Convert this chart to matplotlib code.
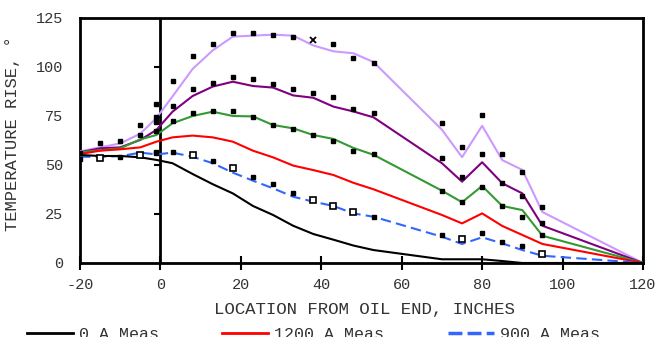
import matplotlib
matplotlib.use("Agg")
import matplotlib.pyplot as plt
from matplotlib.lines import Line2D

plt.rcParams['font.family'] = ['Liberation Mono', 'DejaVu Sans']
plt.rcParams['axes.unicode_minus'] = False

# positions along the bar (inches from the oil end)
location = [-20, -15, -10, -5, -1, 3, 8, 13, 18, 23, 28, 33, 38, 43, 48, 53,
            70, 75, 80, 85, 90, 95, 120]

# temperature rise curves
rise_0a = [55.1, 54.6, 54.6, 53.9, 52.6, 50.9, 45.4, 40.2, 35.5, 29.1, 24.5, 19.0,
           14.8, 11.9, 8.9, 6.6, 1.9, 1.9, 1.9, 1.0, 0, 0, 0]
rise_1200a = [55.6, 57.3, 58.0, 59.0, 61.9, 64.1, 65.0, 64.1, 61.9, 57.3, 53.9, 49.7,
              47.4, 44.9, 40.9, 37.6, 24.5, 20.2, 25.3, 18.9, 14.3, 9.7, 0]
rise_900a = [54.2, 54.2, 54.5, 56.3, 55.4, 56.3, 54.2, 50.9, 46.1, 42.0, 38.1, 33.8,
             31.3, 29.1, 25.3, 23.6, 13.4, 9.7, 13.1, 10.0, 6.6, 3.7, 0]
rise_green = [56.5, 57.5, 58.5, 63.1, 65.3, 71.3, 75.0, 77.2, 75.0, 74.8, 70.4, 68.7,
              65.3, 63.3, 58.7, 55.2, 36.9, 31.0, 39.3, 29.1, 27.0, 13.9, 0]
rise_purple = [56.5, 58.5, 59.0, 62.8, 67.9, 77.2, 85.2, 90.0, 92.5, 90.3, 89.5, 85.5,
               84.3, 79.8, 77.3, 74.3, 50.9, 41.5, 51.4, 40.7, 35.5, 19.0, 0]
rise_lavender = [57.0, 59.0, 61.0, 66.0, 74.0, 85.0, 99.0, 108.5, 115.5, 116.0, 116.5, 116.0,
                 111.0, 108.0, 107.0, 102.5, 68.0, 54.0, 70.0, 52.5, 47.5, 26.0, 0]

# measured points
pts_lavender_x = [-15, -10, -5, -1, 3, 8, 13, 18, 23, 28, 33, 43, 48, 53, 70, 75, 80, 85, 90, 95]
pts_lavender_y = [61.1, 62.4, 70.6, 81.0, 93.0, 105.8, 111.5, 117.5, 117.5, 116.3, 115.5,
                  111.6, 104.4, 102.2, 71.6, 59.3, 75.5, 55.6, 46.3, 28.7]
pts_cross_x = [38]
pts_cross_y = [113.8]
pts_purple_x = [-5, -1, 3, 8, 13, 18, 23, 28, 33, 38, 43, 48, 53, 70, 75, 80, 85, 90, 95]
pts_purple_y = [65.3, 74.6, 80.1, 88.6, 92.0, 95.0, 93.9, 91.2, 88.8, 86.9, 84.7, 78.4,
                76.7, 53.4, 44.0, 55.6, 41.0, 34.2, 20.6]
pts_green_x = [-20, -1, -1, 3, 8, 13, 18, 23, 28, 33, 38, 43, 48, 53, 70, 75, 80, 85, 90, 95]
pts_green_y = [56.2, 72.1, 67.5, 72.5, 76.7, 77.7, 77.7, 74.7, 70.4, 68.2, 65.3, 62.4,
               57.3, 55.4, 36.9, 31.0, 38.9, 29.1, 23.6, 14.4]
pts_blue_x = [-20, -10, -1, -1, 3, 13, 23, 28, 33, 53, 70, 80, 85, 90]
pts_blue_y = [52.9, 54.2, 56.8, 56.0, 56.5, 52.0, 44.0, 40.1, 35.9, 23.6, 14.3, 15.1, 10.5, 8.7]
pts_open_x = [-15, -5, 8, 18, 38, 43, 48, 75, 95]
pts_open_y = [53.4, 55.1, 54.9, 48.7, 32.1, 29.2, 26.2, 12.1, 4.6]

x_ticks = [-20, 0, 20, 40, 60, 80, 100, 120]
y_ticks = [0, 25, 50, 75, 100, 125]

text_color = '#333333'

fig = plt.figure(figsize=(6.67, 3.37), dpi=100)
ax = fig.add_axes([0.12, 0.2196, 0.844, 0.727])

ax.plot(location, rise_lavender, color='#CC99FF', lw=1.5, zorder=3)
ax.plot(location, rise_purple, color='#800080', lw=1.5, zorder=3)
ax.plot(location, rise_green, color='#339933', lw=1.5, zorder=3)
ax.plot(location, rise_1200a, color='#FF0000', lw=1.5, zorder=3)
ax.plot(location, rise_900a, color='#3366FF', lw=1.5, ls=(0, (5, 2.5)), zorder=3)
ax.plot(location, rise_0a, color='black', lw=1.5, zorder=3)

for px, py in [(pts_lavender_x, pts_lavender_y), (pts_purple_x, pts_purple_y),
               (pts_green_x, pts_green_y), (pts_blue_x, pts_blue_y)]:
    ax.plot(px, py, ls='none', marker='s', ms=2.5, color='black', zorder=4)
ax.plot(pts_open_x, pts_open_y, ls='none', marker='s', ms=4.5, mfc='white',
        mec='black', mew=1.2, zorder=4)
ax.plot(pts_cross_x, pts_cross_y, ls='none', marker='x', ms=5, mew=1.3,
        color='black', zorder=4)

# vertical reference at the oil end, with small ticks on its left side
ax.axvline(0, color='black', lw=2, zorder=2)
ax.plot([0] * 4, y_ticks[1:5], ls='none', marker=0, ms=4, mew=1.5,
        color='black', zorder=2)

ax.set_xlim(-20, 120)
ax.set_ylim(0, 125)
ax.set_xticks(x_ticks)
ax.set_yticks(y_ticks)
ax.tick_params(axis='x', direction='inout', length=10, width=1.5, pad=6,
               labelsize=11, labelcolor=text_color)
ax.tick_params(axis='y', length=0, pad=12, labelsize=11, labelcolor=text_color)
for sp in ax.spines.values():
    sp.set_linewidth(2)

ax.set_xlabel('LOCATION FROM OIL END, INCHES', fontsize=12.5, color=text_color)
ax.xaxis.set_label_coords(0.506, -0.16)
ax.set_ylabel('TEMPERATURE RISE, °', fontsize=12.3, color=text_color)
ax.yaxis.set_label_coords(-0.1066, 0.53)

handles = [Line2D([], [], color='black', lw=2),
           Line2D([], [], color='#FF0000', lw=2),
           Line2D([], [], color='#3366FF', lw=2.5, ls=(0, (4, 1.5)))]
labels = ['0 A Meas', '1200 A Meas', '900 A Meas']
leg = fig.legend(handles, labels, ncol=3, loc='upper left',
                 bbox_to_anchor=(27 / 667, 0.03), frameon=False,
                 fontsize=12, handlelength=2.76, handletextpad=0.36,
                 columnspacing=3.8, borderpad=0, borderaxespad=0)
for t in leg.get_texts():
    t.set_color(text_color)

fig.savefig('out.png', dpi=100)
